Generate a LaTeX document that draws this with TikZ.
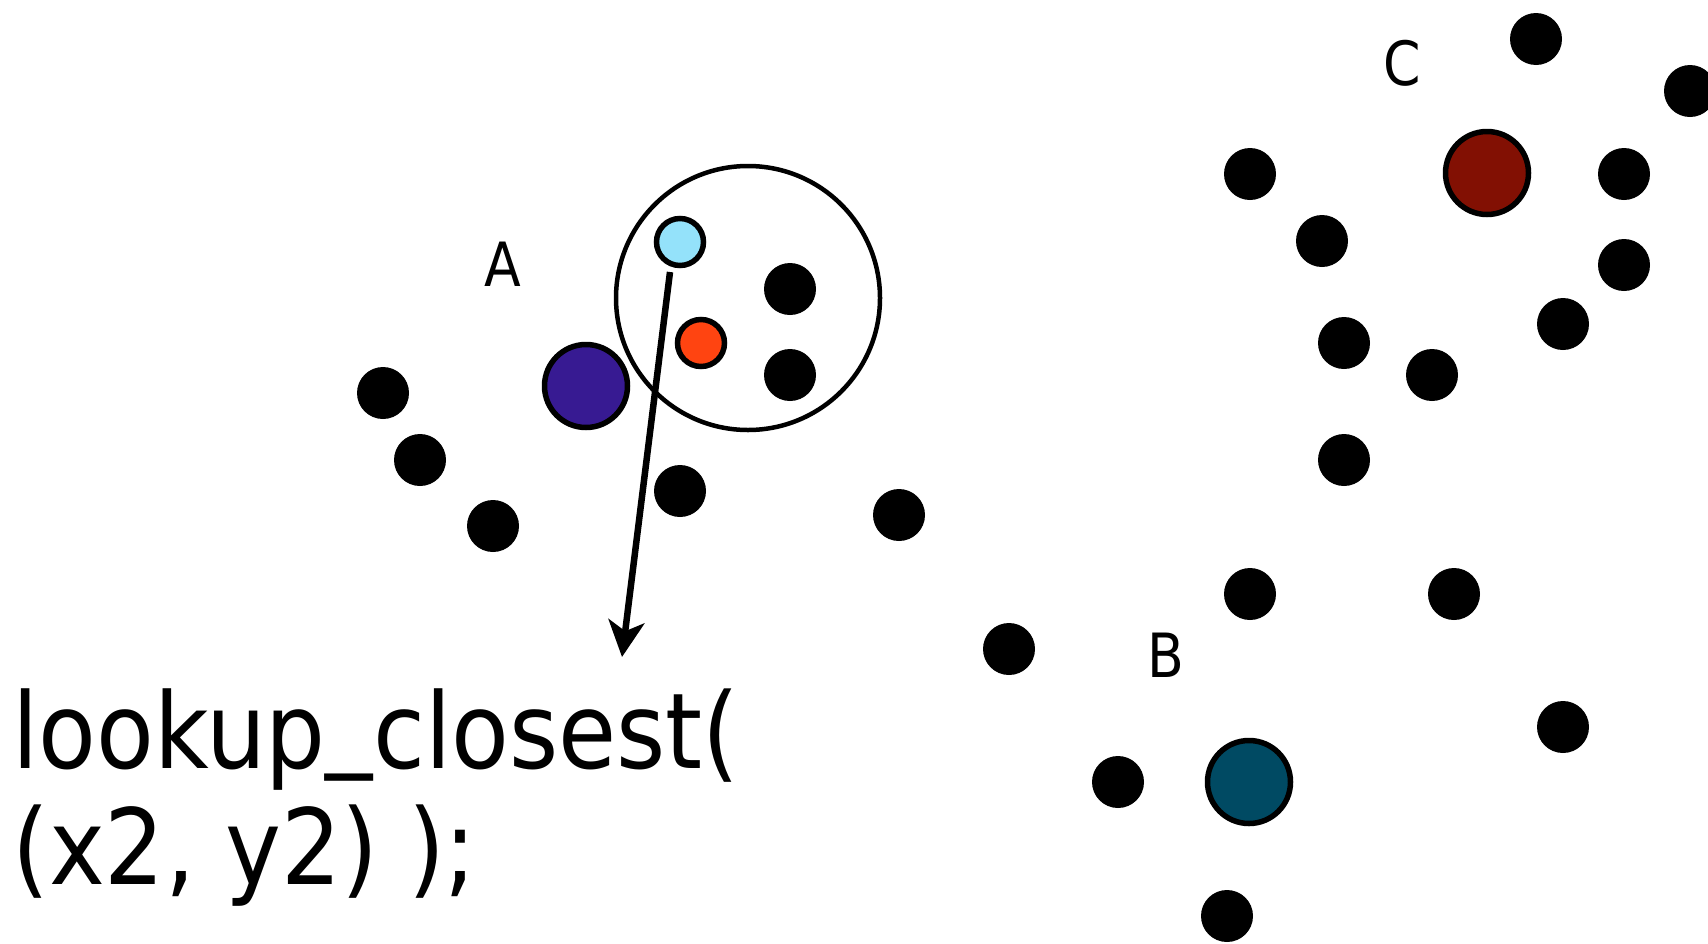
\documentclass[tikz,border=0pt]{standalone}
\usepackage{fontspec}
\usetikzlibrary{arrows.meta}
\newfontfamily\labfont[FakeStretch=0.88]{DejaVu Sans}
\newfontfamily\codefont[FakeStretch=0.9]{DejaVu Sans}
\newcommand{\lowbar}{\raisebox{12pt}{\_}}
\definecolor{qblue}{RGB}{148,226,250}
\definecolor{nearred}{RGB}{255,68,17}
\definecolor{cenA}{RGB}{55,26,146}
\definecolor{cenB}{RGB}{0,74,99}
\definecolor{cenC}{RGB}{130,16,3}
\tikzset{
  dot/.style={circle,fill=black,inner sep=0pt,minimum size=52pt},
  smallring/.style={circle,draw=black,line width=5.5pt,inner sep=0pt,minimum size=47pt},
  centroid/.style={circle,draw=black,line width=5.5pt,inner sep=0pt,minimum size=83pt},
  clusterlabel/.style={font=\labfont\fontsize{61}{61}\selectfont,inner sep=0pt},
  codelabel/.style={font=\codefont\fontsize{105}{117}\selectfont,inner sep=0pt,anchor=base west},
  searcharrow/.style={line width=6.5pt,-{Stealth[length=36pt,width=36pt,inset=10pt]}}
}
\begin{document}
\begin{tikzpicture}[x=1pt,y=-1pt]
\useasboundingbox (0,0) rectangle (1708,943);

% search radius around the query point
\node[circle,draw=black,line width=4.5pt,inner sep=0pt,minimum size=264pt] (range) at (748,298) {};

% cluster A
\node[dot] (a1) at (383,393) {};
\node[dot] (a2) at (420,460) {};
\node[dot] (a3) at (493,526) {};
\node[dot] (a4) at (680,491) {};
\node[dot] (a5) at (790,289) {};
\node[dot] (a6) at (790,375) {};
\node[dot] (a7) at (899,515) {};
\node[dot] (a8) at (1009,649) {};
\node[centroid,fill=cenA] (ca) at (586,386) {};
\node[smallring,fill=nearred] (near) at (701,343) {};
\node[smallring,fill=qblue] (query) at (680,242) {};
\node[clusterlabel] (la) at (503,264) {A};

% cluster C
\node[dot] (c1) at (1536,39) {};
\node[dot] (c2) at (1690,91) {};
\node[dot] (c3) at (1250,174) {};
\node[dot] (c4) at (1624,174) {};
\node[dot] (c5) at (1322,241) {};
\node[dot] (c6) at (1624,265) {};
\node[dot] (c7) at (1563,324) {};
\node[dot] (c8) at (1344,343) {};
\node[dot] (c9) at (1432,375) {};
\node[dot] (c10) at (1344,460) {};
\node[centroid,fill=cenC] (cc) at (1487,173) {};
\node[clusterlabel] (lc) at (1402,63) {C};

% cluster B
\node[dot] (b1) at (1250,594) {};
\node[dot] (b2) at (1454,594) {};
\node[dot] (b3) at (1563,727) {};
\node[dot] (b4) at (1118,782) {};
\node[dot] (b5) at (1227,916) {};
\node[centroid,fill=cenB] (cb) at (1249,782) {};
\node[clusterlabel] (lb) at (1166,655) {B};

% lookup call
\node[codelabel] (code1) at (12,768) {lookup\lowbar closest(};
\node[codelabel] (code2) at (12,884) {(x2, y2) );};

\coordinate (from) at (670,272);
\coordinate (tip) at (622,657);
\draw[searcharrow] (from) -- (tip);
\end{tikzpicture}
\end{document}
